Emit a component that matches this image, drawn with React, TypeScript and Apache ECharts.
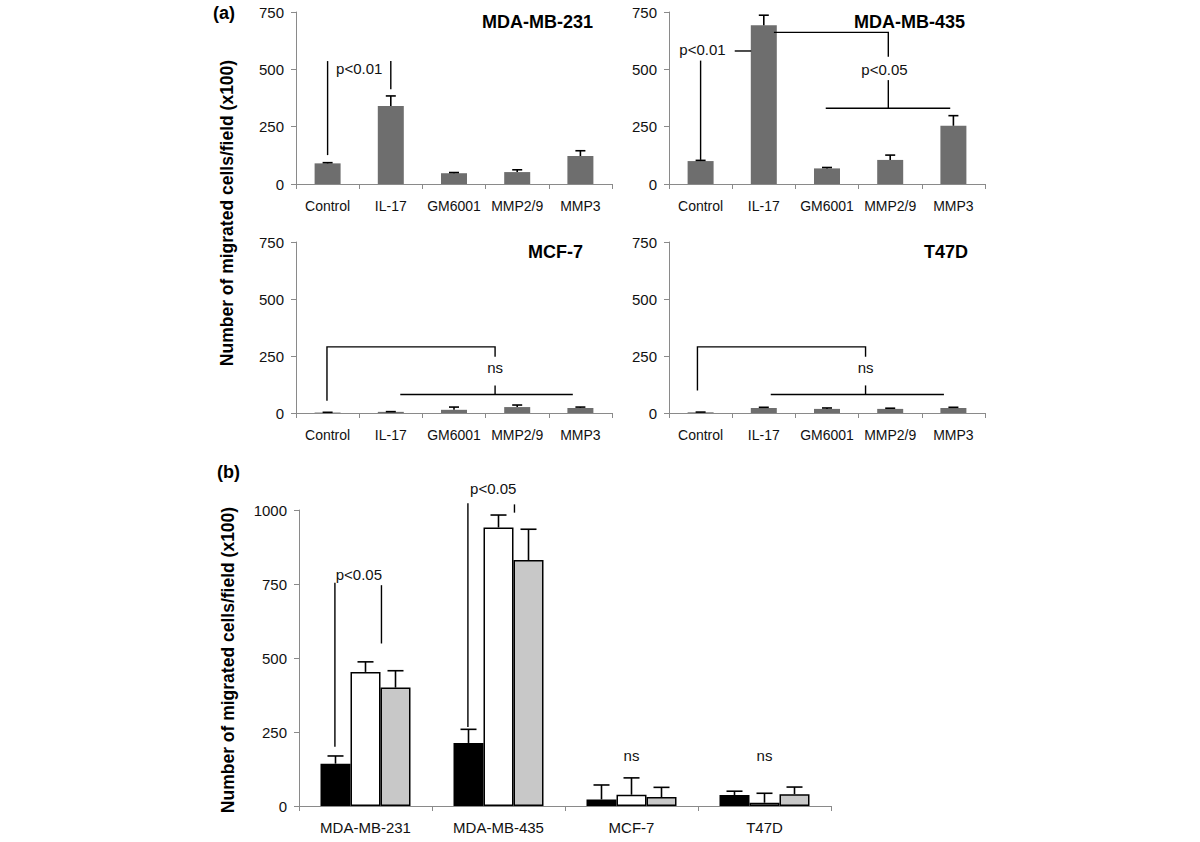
import React, { useEffect, useRef } from "react";
import * as echarts from "echarts";

// ---------- DATA ----------
const treatments = ["Control", "IL-17", "GM6001", "MMP2/9", "MMP3"];
const mda231Mean = [90, 340, 47, 52, 122];
const mda231Err = [3, 44, 3, 10, 23];
const mda435Mean = [100, 692, 68, 105, 254];
const mda435Err = [3, 44, 4, 21, 44];
const mcf7Mean = [2, 5, 14, 26, 22];
const mcf7Err = [1, 1, 12, 9, 4];
const t47dMean = [3, 22, 18, 18, 22];
const t47dErr = [1, 3, 4, 3, 3];

const cellLines = ["MDA-MB-231", "MDA-MB-435", "MCF-7", "T47D"];
const groupBlackMean = [143, 213, 22, 37];
const groupBlackErr = [26, 46, 49, 13];
const groupWhiteMean = [453, 941, 38, 11];
const groupWhiteErr = [34, 42, 57, 32];
const groupGreyMean = [400, 831, 30, 40];
const groupGreyErr = [57, 104, 33, 24];

const panelATicks = [0, 250, 500, 750];
const panelBTicks = [0, 250, 500, 750, 1000];

// significance annotations (x in category units: category i spans [i, i+1])
const ann231Lines = [
  [[0.5, 536], [0.5, 126]],
  [[1.5, 536], [1.5, 413]],
];
const ann231Texts = [{ name: "p<0.01", value: [1.0, 504] }];

const ann435Lines = [
  [[0.5, 538], [0.5, 105]],
  [[1.04, 580], [1.3, 580]],
  [[1.66, 661], [3.47, 661], [3.47, 555]],
  [[3.47, 453], [3.47, 330]],
  [[2.48, 330], [4.45, 330]],
];
const ann435Texts = [
  { name: "p<0.01", value: [0.53, 587] },
  { name: "p<0.05", value: [3.41, 501] },
];

const annMcfLines = [
  [[0.49, 54], [0.49, 290], [3.15, 290], [3.15, 247]],
  [[3.15, 121], [3.15, 81]],
  [[1.65, 81], [4.38, 81]],
];
const annMcfTexts = [{ name: "ns", value: [3.15, 198] }];

const annT47Lines = [
  [[0.45, 99], [0.45, 290], [3.11, 290], [3.11, 247]],
  [[3.11, 121], [3.11, 81]],
  [[1.61, 81], [4.35, 81]],
];
const annT47Texts = [{ name: "ns", value: [3.11, 198] }];

const annBLines = [
  [[0.27, 754], [0.27, 200]],
  [[0.62, 746], [0.62, 549]],
  [[1.27, 1023], [1.27, 267]],
  [[1.62, 1019], [1.62, 991]],
];
const annBTexts = [
  { name: "p<0.05", value: [0.45, 783] },
  { name: "p<0.05", value: [1.46, 1073] },
  { name: "ns", value: [2.5, 170] },
  { name: "ns", value: [3.5, 170] },
];

// ---------- STYLE ----------
const FONT = "'Liberation Sans', Arial, Helvetica, sans-serif";
const AXIS_COLOR = "#8a8a8a";
const TEXT_COLOR = "#111111";
const BAR_GREY = "#6e6e6e";

function errRender(offsetPx: number, capW: number) {
  return (params: any, api: any) => {
    const base = api.coord([api.value(0), api.value(1)]);
    const top = api.coord([api.value(0), api.value(2)]);
    const cx = base[0] + offsetPx;
    return {
      type: "group",
      children: [
        {
          type: "line",
          shape: { x1: cx, y1: base[1], x2: cx, y2: top[1] },
          style: { stroke: "#000", lineWidth: 1.6 },
        },
        {
          type: "line",
          shape: { x1: cx - capW / 2, y1: top[1], x2: cx + capW / 2, y2: top[1] },
          style: { stroke: "#000", lineWidth: 1.6 },
        },
      ],
    };
  };
}

function errData(mean: number[], err: number[]) {
  return mean.map((m, i) => [i, m, m + err[i]]);
}

export default function App() {
  const ref = useRef<HTMLDivElement>(null);

  useEffect(() => {
    if (!ref.current) return;
    const chart = echarts.init(ref.current, null, { renderer: "svg" });

    const gridsA = [
      { left: 296, top: 12, width: 316, height: 172 },
      { left: 669, top: 12, width: 316, height: 172 },
      { left: 296, top: 242, width: 316, height: 171 },
      { left: 669, top: 242, width: 316, height: 171 },
    ];
    const gridB = { left: 299, top: 510, width: 532, height: 296 };
    const grids = [...gridsA, gridB].map((g) => ({ ...g, outerBoundsMode: "none", containLabel: false }));

    const catAxis = (gi: number, data: string[], fontSize: number, margin: number) => ({
      type: "category",
      gridIndex: gi,
      data,
      axisLine: { show: true, lineStyle: { color: AXIS_COLOR, width: 1 } },
      axisTick: { show: true, length: 5, alignWithLabel: false, lineStyle: { color: AXIS_COLOR } },
      axisLabel: { interval: 0, color: TEXT_COLOR, fontSize, fontFamily: FONT, margin },
      splitLine: { show: false },
    });
    const valXAxis = (gi: number, max: number) => ({
      type: "value",
      gridIndex: gi,
      min: 0,
      max,
      show: false,
    });
    const yAxis = (gi: number, max: number, ticks: number[]) => ({
      type: "value",
      gridIndex: gi,
      min: 0,
      max,
      interval: ticks[1] - ticks[0],
      axisLine: { show: true, lineStyle: { color: AXIS_COLOR, width: 1 } },
      axisTick: { show: true, length: 5, lineStyle: { color: AXIS_COLOR } },
      axisLabel: {
        color: TEXT_COLOR,
        fontSize: 15,
        fontFamily: FONT,
        margin: 12,
        formatter: (v: number) => String(v),
      },
      splitLine: { show: false },
    });

    const panelA = [
      { mean: mda231Mean, err: mda231Err, lines: ann231Lines, texts: ann231Texts },
      { mean: mda435Mean, err: mda435Err, lines: ann435Lines, texts: ann435Texts },
      { mean: mcf7Mean, err: mcf7Err, lines: annMcfLines, texts: annMcfTexts },
      { mean: t47dMean, err: t47dErr, lines: annT47Lines, texts: annT47Texts },
    ];

    const annLines = (gi: number, lines: number[][][]) => ({
      type: "lines",
      coordinateSystem: "cartesian2d",
      xAxisIndex: 5 + gi,
      yAxisIndex: gi,
      polyline: true,
      clip: false,
      silent: true,
      z: 5,
      lineStyle: { color: "#000", width: 1.4, opacity: 1, curveness: 0 },
      data: lines.map((c) => ({ coords: c })),
    });
    const annTexts = (gi: number, texts: { name: string; value: number[] }[]) => ({
      type: "custom",
      xAxisIndex: 5 + gi,
      yAxisIndex: gi,
      clip: false,
      silent: true,
      z: 6,
      data: texts.map((t) => ({ name: t.name, value: t.value })),
      renderItem: (params: any, api: any) => {
        const p = api.coord([api.value(0), api.value(1)]);
        return {
          type: "text",
          x: p[0],
          y: p[1],
          style: {
            text: texts[params.dataIndex].name,
            fill: TEXT_COLOR,
            font: `15px ${FONT}`,
            align: "center",
            verticalAlign: "middle",
          },
        };
      },
    });

    const series: any[] = [];
    panelA.forEach((p, gi) => {
      series.push({
        type: "bar",
        xAxisIndex: gi,
        yAxisIndex: gi,
        data: p.mean,
        barWidth: 26,
        itemStyle: { color: BAR_GREY },
        silent: true,
      });
      series.push({
        type: "custom",
        xAxisIndex: gi,
        yAxisIndex: gi,
        renderItem: errRender(0, 10),
        data: errData(p.mean, p.err),
        z: 4,
        silent: true,
      });
      series.push(annLines(gi, p.lines));
      series.push(annTexts(gi, p.texts));
    });

    const bGroups = [
      { mean: groupBlackMean, err: groupBlackErr, color: "#000000", name: "Group 1" },
      { mean: groupWhiteMean, err: groupWhiteErr, color: "#ffffff", name: "Group 2" },
      { mean: groupGreyMean, err: groupGreyErr, color: "#c8c8c8", name: "Group 3" },
    ];
    const BW = 30;
    bGroups.forEach((g) => {
      series.push({
        type: "bar",
        name: g.name,
        xAxisIndex: 4,
        yAxisIndex: 4,
        data: g.mean,
        barWidth: BW,
        barGap: "0%",
        itemStyle: { color: g.color, borderColor: "#000", borderWidth: 1.5 },
        silent: true,
      });
    });
    bGroups.forEach((g, k) => {
      series.push({
        type: "custom",
        xAxisIndex: 4,
        yAxisIndex: 4,
        renderItem: errRender((k - 1) * BW, 16),
        data: errData(g.mean, g.err),
        z: 4,
        silent: true,
      });
    });
    series.push(annLines(4, annBLines));
    series.push(annTexts(4, annBTexts));

    const boldText = (text: string, x: number, y: number, align: string, size: number, rotation = 0) => ({
      type: "text",
      x,
      y,
      rotation,
      silent: true,
      style: {
        text,
        fill: "#000",
        font: `bold ${size}px ${FONT}`,
        align,
        verticalAlign: "middle",
      },
    });

    chart.setOption({
      animation: false,
      backgroundColor: "#ffffff",
      grid: grids,
      xAxis: [
        catAxis(0, treatments, 14, 15),
        catAxis(1, treatments, 14, 15),
        catAxis(2, treatments, 14, 15),
        catAxis(3, treatments, 14, 15),
        catAxis(4, cellLines, 15, 14),
        valXAxis(0, 5),
        valXAxis(1, 5),
        valXAxis(2, 5),
        valXAxis(3, 5),
        valXAxis(4, 4),
      ],
      yAxis: [
        yAxis(0, 750, panelATicks),
        yAxis(1, 750, panelATicks),
        yAxis(2, 750, panelATicks),
        yAxis(3, 750, panelATicks),
        yAxis(4, 1000, panelBTicks),
      ],
      series,
      graphic: [
        boldText("(a)", 213, 13, "left", 18),
        boldText("(b)", 217, 472, "left", 18),
        boldText("Number of migrated cells/field (x100)", 227, 213, "center", 17.5, Math.PI / 2),
        boldText("Number of migrated cells/field (x100)", 228, 660, "center", 17.5, Math.PI / 2),
        boldText("MDA-MB-231", 593, 22, "right", 18),
        boldText("MDA-MB-435", 965, 22, "right", 18),
        boldText("MCF-7", 583, 252, "right", 18),
        boldText("T47D", 968, 252, "right", 18),
      ],
    });

    return () => chart.dispose();
  }, []);

  return (
    <div
      ref={ref}
      style={{ position: "absolute", left: 0, top: 0, width: 1200, height: 842, background: "#fff" }}
    />
  );
}
